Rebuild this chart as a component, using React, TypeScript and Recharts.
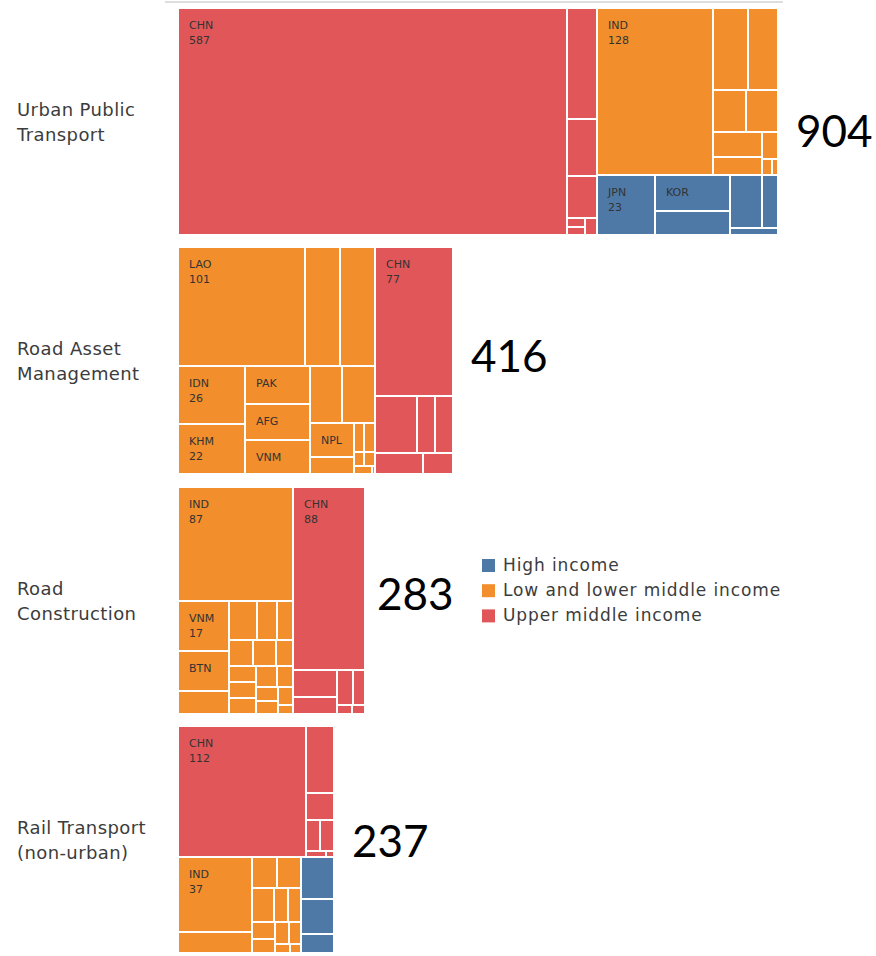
import { Treemap } from "recharts";

const CATEGORY_LINES = [
  ["Urban Public", "Transport"],
  ["Road Asset", "Management"],
  ["Road", "Construction"],
  ["Rail Transport", "(non-urban)"],
];
const TOTALS = [904, 416, 283, 237];
const INCOME_GROUPS = ["High income", "Low and lower middle income", "Upper middle income"];
const INCOME_COLORS = ["#4e79a7", "#f28e2b", "#e15759"];

type Leaf = [string, number];

// [country code, value]; "" where the cell carries no label
const URBAN_HIGH: Leaf[] = [["JPN", 23], ["KOR", 17.9], ["", 12], ["", 11.2], ["", 5.7], ["", 1.9]];
const URBAN_LOW: Leaf[] = [
  ["IND", 128], ["", 19.2], ["", 16.2], ["", 9.2], ["", 8.9],
  ["", 8.1], ["", 5.8], ["", 2.9], ["", 1.05], ["", 0.94],
];
const URBAN_UPPER: Leaf[] = [["CHN", 587], ["", 22.2], ["", 11.4], ["", 8.4], ["", 1.05], ["", 1.02], ["", 0.88]];

const ROAD_ASSET_LOW: Leaf[] = [
  ["LAO", 101], ["", 27.7], ["", 27.4], ["IDN", 26], ["KHM", 22], ["PAK", 16.5],
  ["AFG", 15.4], ["VNM", 15], ["", 12.3], ["", 12.2], ["NPL", 10], ["", 5],
  ["", 2], ["", 2], ["", 0.98], ["", 0.94], ["", 0.94], ["", 0.94],
];
const ROAD_ASSET_UPPER: Leaf[] = [["CHN", 77], ["", 15.9], ["", 6.7], ["", 6.7], ["", 6.7], ["", 4.7]];

const ROAD_CONSTRUCTION_LOW: Leaf[] = [
  ["IND", 87], ["VNM", 17], ["BTN", 13.6], ["", 8], ["", 7.3], ["", 5.2], ["", 4.3],
  ["", 4.1], ["", 4], ["", 3], ["", 2.9], ["", 2.9], ["", 2.9], ["", 2.9],
  ["", 2.2], ["", 2], ["", 1.9], ["", 1.8], ["", 0.9],
];
const ROAD_CONSTRUCTION_UPPER: Leaf[] = [["CHN", 88], ["", 8], ["", 4.9], ["", 3.8], ["", 2.7], ["", 0.9], ["", 0.8]];

const RAIL_HIGH: Leaf[] = [["", 9.2], ["", 7.8], ["", 4.1]];
const RAIL_LOW: Leaf[] = [
  ["IND", 37], ["", 10.6], ["", 5.1], ["", 5], ["", 4.9], ["", 3.1], ["", 3.1],
  ["", 2.6], ["", 2.2], ["", 2], ["", 1.8], ["", 0.9], ["", 0.7],
];
const RAIL_UPPER: Leaf[] = [["CHN", 112], ["", 12.5], ["", 5], ["", 3], ["", 2.8], ["", 0.8], ["", 0.8]];

// per category: high, low & lower middle, upper middle
const CATEGORY_GROUPS: Leaf[][][] = [
  [URBAN_HIGH, URBAN_LOW, URBAN_UPPER],
  [[], ROAD_ASSET_LOW, ROAD_ASSET_UPPER],
  [[], ROAD_CONSTRUCTION_LOW, ROAD_CONSTRUCTION_UPPER],
  [RAIL_HIGH, RAIL_LOW, RAIL_UPPER],
];

const LEFT = 178;
const TOP = 8;
const ROW_STEP = 239.3;
const MAP_HEIGHT = 227;
const PX_PER_UNIT = 0.6657;
const TOTAL_DX = [18, 18, 12, 18];
const TOTAL_DY = [25, 11, 9, 17];
const LABEL_FONT = "'DejaVu Sans', sans-serif";

function buildTree(groups: Leaf[][]) {
  const nodes = groups
    .map((leaves, g) => ({
      name: INCOME_GROUPS[g],
      income: g,
      children: leaves
        .map(([name, value]) => ({ name, value, income: g }))
        .sort((a, b) => b.value - a.value),
    }))
    .filter((n) => n.children.length > 0);
  const sum = (n: { children: { value: number }[] }) =>
    n.children.reduce((s, c) => s + c.value, 0);
  return nodes.sort((a, b) => sum(b) - sum(a));
}

function Cell(props: any) {
  const { x, y, width, height, depth, name, value, income } = props;
  if (depth !== 2) return <g />;
  const showName = !!name && width > 30 && height > 24;
  const showValue = showName && height > 44;
  return (
    <g>
      <rect
        x={x + 1}
        y={y + 1}
        width={Math.max(0, width - 2)}
        height={Math.max(0, height - 2)}
        fill={INCOME_COLORS[income]}
      />
      {showName && (
        <text x={x + 11} y={y + 21} fontSize={11} fontFamily={LABEL_FONT} fill="#333">
          {name}
        </text>
      )}
      {showValue && (
        <text x={x + 11} y={y + 36} fontSize={11} fontFamily={LABEL_FONT} fill="#333">
          {Math.round(value)}
        </text>
      )}
    </g>
  );
}

export default function App() {
  const rows = TOTALS.map((total, i) => {
    const top = Math.round(TOP + i * ROW_STEP);
    const width = Math.round(total * PX_PER_UNIT - 1.8);
    return { total, top, width, mid: top + MAP_HEIGHT / 2, data: buildTree(CATEGORY_GROUPS[i]) };
  });

  return (
    <div style={{ position: "absolute", left: 0, top: 0, width: 876, height: 956, background: "#fff" }}>
      <svg width={876} height={956} style={{ position: "absolute", left: 0, top: 0 }}>
        <line x1={165} x2={783} y1={2} y2={2} stroke="#dedede" strokeWidth={2} />
        {rows.map((r, i) => (
          <g key={i}>
            {CATEGORY_LINES[i].map((line, j) => (
              <text
                key={j}
                x={17}
                y={r.mid - 6 + j * 25.5}
                fontSize={18}
                letterSpacing={0.4}
                fontFamily={LABEL_FONT}
                fill="#3c3c3c"
              >
                {line}
              </text>
            ))}
            <text
              x={LEFT + r.width + TOTAL_DX[i]}
              y={r.mid + TOTAL_DY[i]}
              fontSize={44}
              fontFamily="Lato, sans-serif"
              fill="#000"
            >
              {r.total}
            </text>
          </g>
        ))}
        {INCOME_GROUPS.map((g, i) => (
          <g key={g}>
            <rect x={482} y={559 + i * 25.2} width={13} height={13} fill={INCOME_COLORS[i]} />
            <text
              x={503}
              y={571 + i * 25.2}
              fontSize={17}
              letterSpacing={0.9}
              fontFamily={LABEL_FONT}
              fill="#3c3c3c"
            >
              {g}
            </text>
          </g>
        ))}
      </svg>
      {rows.map((r, i) => (
        <div key={i} style={{ position: "absolute", left: LEFT, top: r.top }}>
          <Treemap
            width={r.width}
            height={MAP_HEIGHT}
            data={r.data}
            dataKey="value"
            content={<Cell />}
            isAnimationActive={false}
          />
        </div>
      ))}
    </div>
  );
}
